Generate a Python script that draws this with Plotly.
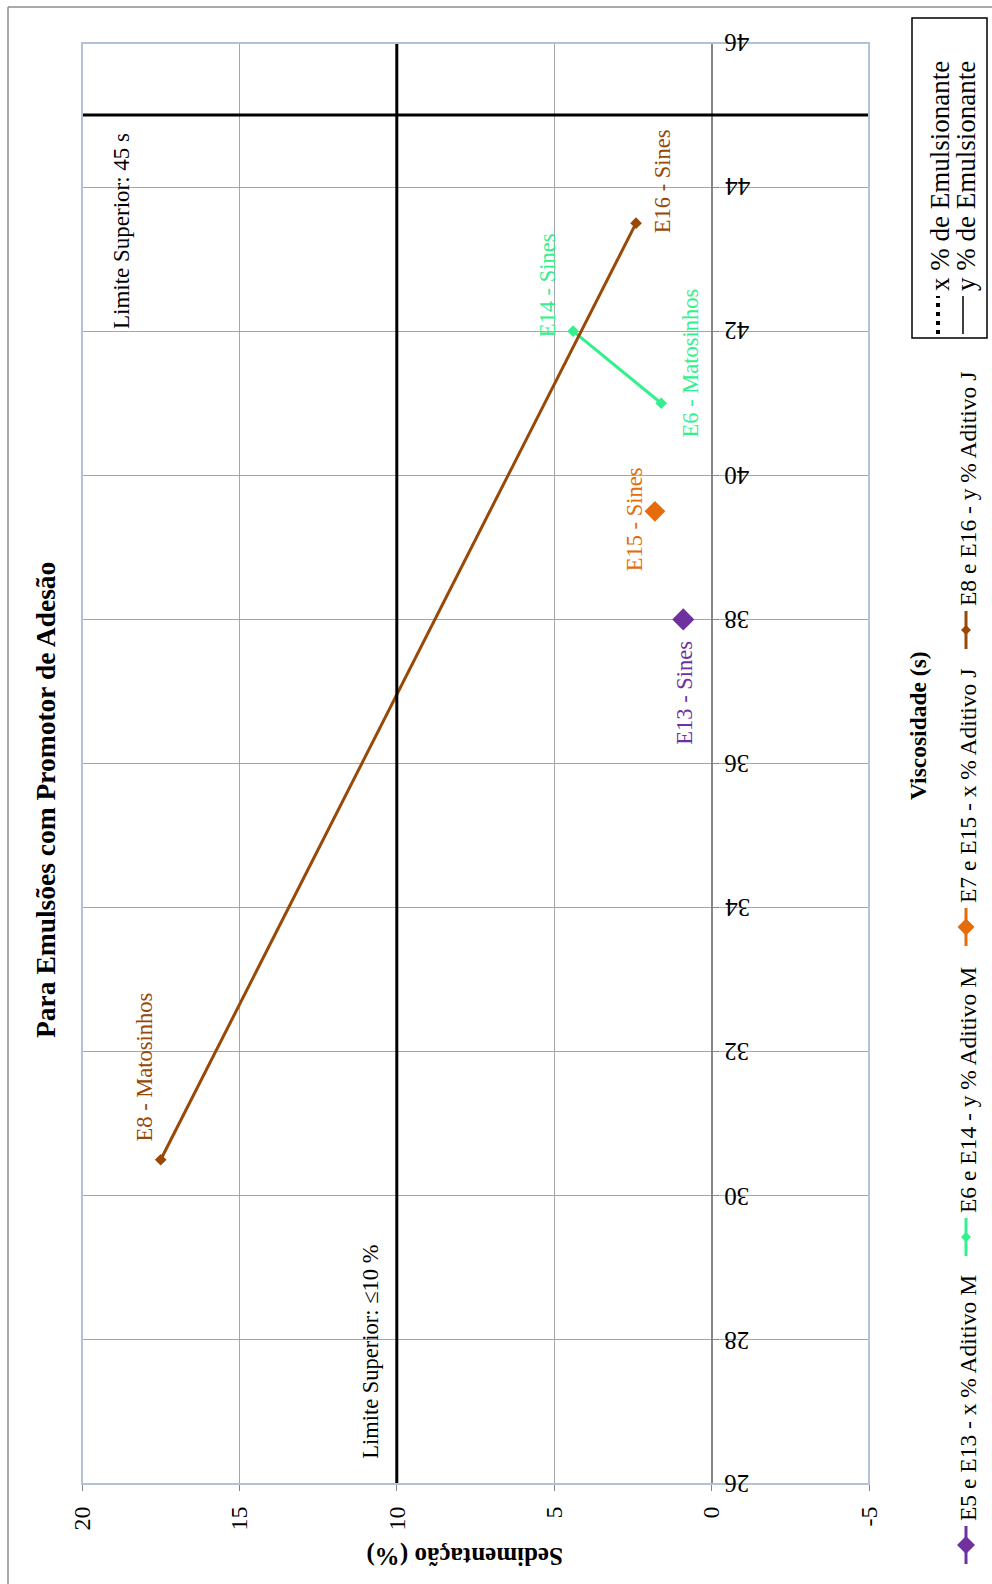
import plotly.graph_objects as go

# ---- data -------------------------------------------------------------
# Sedimentação (%) on the horizontal axis, Viscosidade (s) on the vertical
e13_sed = [0.9]
e13_visc = [38.0]
e15_sed = [1.8]
e15_visc = [39.5]
e6_e14_sed = [1.6, 4.4]
e6_e14_visc = [41.0, 42.0]
e8_e16_sed = [17.5, 2.4]
e8_e16_visc = [30.5, 43.5]

limite_sed = 10
limite_visc = 45

sed_ticks = [20, 15, 10, 5, 0, -5]
visc_ticks = [26, 28, 30, 32, 34, 36, 38, 40, 42, 44, 46]
sed_range = [20, -5]
visc_range = [26, 46]
visc_axis_at_sed = 0

series_names = [
    "E5 e E13 - x % Aditivo M",
    "E6 e E14 - y % Aditivo M",
    "E7 e E15 - x % Aditivo J",
    "E8 e E16 - y % Aditivo J",
]

PURPLE = "#7030A0"
GREEN = "#33F08E"
ORANGE = "#E46C0A"
BROWN = "#984807"
GRID = "#A6A6A6"
FONT = "Liberation Serif, Times New Roman, serif"

# ---- layout geometry --------------------------------------------------
W, H = 992, 1584
ML, MR, MT, MB = 82, 123, 43, 100
PW = W - ML - MR
PH = H - MT - MB


def px(x):
    return (x - ML) / PW


def py(y):
    return (H - MB - y) / PH


fig = go.Figure()

# series
fig.add_trace(go.Scatter(x=e13_sed, y=e13_visc, mode="markers",
                         marker=dict(symbol="diamond", size=17, color=PURPLE),
                         showlegend=False))
fig.add_trace(go.Scatter(x=e15_sed, y=e15_visc, mode="markers",
                         marker=dict(symbol="diamond", size=16, color=ORANGE),
                         showlegend=False))
fig.add_trace(go.Scatter(x=e6_e14_sed, y=e6_e14_visc, mode="lines+markers",
                         line=dict(color=GREEN, width=3),
                         marker=dict(symbol="diamond", size=9, color=GREEN),
                         showlegend=False))
fig.add_trace(go.Scatter(x=e8_e16_sed, y=e8_e16_visc, mode="lines+markers",
                         line=dict(color=BROWN, width=3),
                         marker=dict(symbol="diamond", size=9, color=BROWN),
                         showlegend=False))

shapes = []
# limit lines
shapes.append(dict(type="line", xref="x", yref="paper", x0=limite_sed, x1=limite_sed,
                   y0=0, y1=1, line=dict(color="black", width=3), layer="above"))
shapes.append(dict(type="line", xref="paper", yref="y", x0=0, x1=1,
                   y0=limite_visc, y1=limite_visc, line=dict(color="black", width=3),
                   layer="above"))
# plot area frame
shapes.append(dict(type="rect", xref="paper", yref="paper", x0=0, x1=1, y0=0, y1=1,
                   line=dict(color="#B4C2D8", width=2), layer="above"))
# outer chart border (top and left edges)
shapes.append(dict(type="line", xref="paper", yref="paper", x0=px(8), x1=px(992),
                   y0=py(7), y1=py(7), line=dict(color="#8C8C8C", width=1.5)))
shapes.append(dict(type="line", xref="paper", yref="paper", x0=px(8), x1=px(8),
                   y0=py(7), y1=py(1584), line=dict(color="#8C8C8C", width=1.5)))

# line-style legend box
shapes.append(dict(type="rect", xref="paper", yref="paper", x0=px(912), x1=px(987),
                   y0=py(338), y1=py(18), line=dict(color="black", width=1.5)))
shapes.append(dict(type="line", xref="paper", yref="paper", x0=px(938), x1=px(938),
                   y0=py(334), y1=py(296), line=dict(color="black", width=4, dash="4px,5px")))
shapes.append(dict(type="line", xref="paper", yref="paper", x0=px(963), x1=px(963),
                   y0=py(334), y1=py(296), line=dict(color="black", width=1.5)))

annotations = []
# series legend (vertical) at the right edge
legend_items = [
    (series_names[0], PURPLE, 1545, 9),
    (series_names[1], GREEN, 1237, 5),
    (series_names[2], ORANGE, 927, 8.5),
    (series_names[3], BROWN, 630, 5),
]
LX = 966
for name, col, ym, half in legend_items:
    shapes.append(dict(type="line", xref="paper", yref="paper", x0=px(LX), x1=px(LX),
                       y0=py(ym + 19), y1=py(ym - 19), line=dict(color=col, width=3)))
    dx, dy = half / PW, half / PH
    cx, cy = px(LX), py(ym)
    shapes.append(dict(type="path", xref="paper", yref="paper",
                       path=f"M {cx - dx},{cy} L {cx},{cy + dy} L {cx + dx},{cy} L {cx},{cy - dy} Z",
                       fillcolor=col, line=dict(color=col, width=0)))
    annotations.append(dict(xref="paper", yref="paper", x=px(LX + 2), y=py(ym - 22),
                            text=name, showarrow=False, textangle=-90,
                            xanchor="center", yanchor="bottom",
                            font=dict(family=FONT, size=23.5, color="black")))

annotations.append(dict(xref="paper", yref="paper", x=px(940), y=py(293),
                        text="x % de Emulsionante", showarrow=False, textangle=-90,
                        xanchor="center", yanchor="bottom",
                        font=dict(family=FONT, size=27, color="black")))
annotations.append(dict(xref="paper", yref="paper", x=px(966), y=py(293),
                        text="y % de Emulsionante", showarrow=False, textangle=-90,
                        xanchor="center", yanchor="bottom",
                        font=dict(family=FONT, size=27, color="black")))

# title and axis titles
annotations.append(dict(xref="paper", yref="paper", x=px(45), y=py(800),
                        text="<b>Para Emulsões com Promotor de Adesão</b>", showarrow=False,
                        textangle=-90, xanchor="center", yanchor="middle",
                        font=dict(family=FONT, size=27.5, color="black")))
annotations.append(dict(xref="paper", yref="paper", x=px(918), y=py(725),
                        text="<b>Viscosidade (s)</b>", showarrow=False,
                        textangle=-90, xanchor="center", yanchor="middle",
                        font=dict(family=FONT, size=23.5, color="black")))
annotations.append(dict(xref="paper", yref="paper", x=px(465), y=py(1556),
                        text="<b>Sedimentação (%)</b>", showarrow=False,
                        textangle=180, xanchor="center", yanchor="middle",
                        font=dict(family=FONT, size=25, color="black")))

# limit labels
annotations.append(dict(xref="paper", yref="y", x=px(121), y=limite_visc,
                        yshift=-116, text="Limite Superior: 45 s", showarrow=False,
                        textangle=-90, xanchor="center", yanchor="middle",
                        font=dict(family=FONT, size=23, color="black")))
annotations.append(dict(xref="x", yref="paper", x=limite_sed, y=py(1352),
                        xshift=-27, text="Limite Superior: ≤10 %", showarrow=False,
                        textangle=-90, xanchor="center", yanchor="middle",
                        font=dict(family=FONT, size=22.5, color="black")))

# point labels (offsets in pixels from each point)
point_labels = [
    ("E8 - Matosinhos", e8_e16_sed[0], e8_e16_visc[0], -16, 93, BROWN),
    ("E16 - Sines", e8_e16_sed[1], e8_e16_visc[1], 26, 42, BROWN),
    ("E14 - Sines", e6_e14_sed[1], e6_e14_visc[1], -26, 46, GREEN),
    ("E6 - Matosinhos", e6_e14_sed[0], e6_e14_visc[0], 29, 40, GREEN),
    ("E15 - Sines", e15_sed[0], e15_visc[0], -21, -8, ORANGE),
    ("E13 - Sines", e13_sed[0], e13_visc[0], 1, -73, PURPLE),
]
for txt, xv, yv, xs, ys, col in point_labels:
    annotations.append(dict(x=xv, y=yv, xref="x", yref="y", xshift=xs, yshift=ys,
                            text=txt, showarrow=False, textangle=-90,
                            xanchor="center", yanchor="middle",
                            font=dict(family=FONT, size=22.5, color=col)))

# Viscosidade tick labels, upside down, to the right of the axis line
for v in visc_ticks:
    annotations.append(dict(x=visc_axis_at_sed, y=v, xref="x", yref="y", xshift=11,
                            text=str(v), showarrow=False, textangle=180,
                            xanchor="left", yanchor="middle",
                            font=dict(family=FONT, size=25, color="black")))

zero_pos = (sed_range[0] - visc_axis_at_sed) / (sed_range[0] - sed_range[1])

fig.update_layout(
    width=W, height=H,
    margin=dict(l=ML, r=MR, t=MT, b=MB, pad=0),
    paper_bgcolor="white", plot_bgcolor="white",
    showlegend=False,
    font=dict(family=FONT, color="black"),
    xaxis=dict(range=sed_range, tickvals=sed_ticks, ticktext=[str(v) for v in sed_ticks],
               tickangle=-90, ticks="outside", ticklen=6, tickcolor="#868686",
               showgrid=True, gridcolor=GRID, gridwidth=1.2, zeroline=False,
               showline=False, ticklabelstandoff=6,
               tickfont=dict(family=FONT, size=24, color="black")),
    yaxis=dict(range=visc_range, tickvals=visc_ticks, showticklabels=False,
               anchor="free", position=zero_pos, side="right",
               ticks="outside", ticklen=7, tickcolor="#868686",
               showline=True, linecolor="#868686", linewidth=1.5,
               showgrid=True, gridcolor=GRID, gridwidth=1.2, zeroline=False),
    shapes=shapes,
    annotations=annotations,
)

fig.write_html("out.html")
